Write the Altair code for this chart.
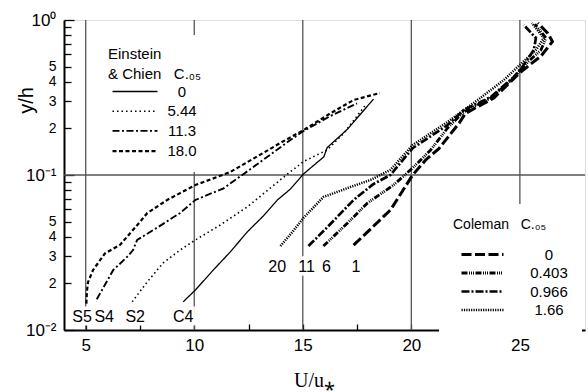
import altair as alt
import pandas as pd

# ---------------- data ----------------
# Einstein & Chien profiles: U/u* (x) vs y/h (y)
C4_x = [9.49, 10.05, 10.88, 11.66, 12.44, 13.18, 13.83, 14.43, 15.03, 15.97, 16.12, 17.05, 18.26]
C4_y = [0.0152, 0.0181, 0.0244, 0.0319, 0.0429, 0.0544, 0.069, 0.0812, 0.1015, 0.131, 0.150, 0.197, 0.309]
S2_x = [7.14, 7.83, 8.57, 9.35, 10.05, 11.2, 12.44, 14.24, 15.03, 16.12, 16.89, 17.89]
S2_y = [0.0152, 0.0204, 0.0271, 0.0328, 0.0381, 0.0476, 0.0622, 0.100, 0.122, 0.145, 0.186, 0.283]
S4_x = [5.51, 6.27, 6.95, 7.18, 7.37, 8.34, 9.35, 10.05, 11.35, 12.58, 14.43, 15.03, 16.27, 17.5]
S4_y = [0.0158, 0.0244, 0.030, 0.0328, 0.0381, 0.0462, 0.0569, 0.069, 0.082, 0.109, 0.168, 0.192, 0.24, 0.29]
S5_x = [5.03, 5.06, 5.11, 5.34, 5.89, 6.58, 7.51, 7.83, 8.75, 10.05, 11.66, 13.97, 15.04, 16.27, 17.35, 18.55]
S5_y = [0.0148, 0.018, 0.0204, 0.0244, 0.0312, 0.0354, 0.050, 0.0567, 0.069, 0.0861, 0.1045, 0.161, 0.195, 0.25, 0.305, 0.338]
EC_runs = ["C4", "S2", "S4", "S5"]
EC_conc = ["0", "5.44", "11.3", "18.0"]

# Coleman profiles
R1_x = [17.34, 18.12, 19.04, 20.06, 20.66, 21.27, 22.2, 22.5, 23.8, 25.04, 25.97, 26.5, 26.29, 25.83]
R1_y = [0.0353, 0.0448, 0.0595, 0.100, 0.125, 0.148, 0.216, 0.25, 0.314, 0.462, 0.585, 0.725, 0.82, 0.957]
R6_x = [15.95, 17.06, 17.98, 19.18, 20.06, 20.89, 21.67, 22.41, 23.66, 24.72, 25.27, 25.97, 26.2, 25.69]
R6_y = [0.0348, 0.049, 0.066, 0.0861, 0.111, 0.145, 0.201, 0.255, 0.314, 0.423, 0.52, 0.64, 0.765, 0.942]
R11_x = [15.26, 16.14, 17.34, 18.26, 19.04, 20.06, 21.67, 22.41, 23.66, 24.72, 25.14, 25.64, 25.74, 25.18]
R11_y = [0.0348, 0.0462, 0.069, 0.0875, 0.100, 0.149, 0.21, 0.262, 0.319, 0.429, 0.505, 0.64, 0.765, 0.929]
R20_x = [13.97, 14.52, 15.03, 15.95, 17.06, 18.12, 19.04, 20.06, 21.67, 23.06, 24.26, 25.04, 25.74, 26.1, 25.55]
R20_y = [0.0348, 0.0429, 0.0528, 0.0721, 0.0824, 0.0929, 0.108, 0.156, 0.22, 0.305, 0.41, 0.52, 0.64, 0.765, 0.957]
CO_runs = ["1", "6", "11", "20"]
CO_conc = ["0", "0.403", "0.966", "1.66"]

# curve labels
EC_lab = ["S5", "S4", "S2", "C4"]
EC_lab_x = [4.83, 5.85, 7.28, 9.49]
EC_lab_y = [0.0121, 0.0121, 0.0121, 0.0121]
CO_lab = ["20", "11", "6", "1"]
CO_lab_x = [13.82, 15.17, 16.09, 17.45]
CO_lab_y = [0.0255, 0.0255, 0.0255, 0.0255]

# grid / ticks
grid_x = [5, 10, 15, 20, 25]
grid_y = [0.1]
x_label_vals = [5, 10, 15, 20, 25]
x_tick_vals = [5, 7.5, 10, 12.5, 15, 17.5, 20, 22.5, 25, 27.5]
y_label_vals = [0.01, 0.02, 0.03, 0.04, 0.05, 0.1, 0.2, 0.3, 0.4, 0.5, 1]
y_tick_vals = [0.01, 0.02, 0.03, 0.04, 0.05, 0.06, 0.07, 0.08, 0.09,
               0.1, 0.2, 0.3, 0.4, 0.5, 0.6, 0.7, 0.8, 0.9, 1]

# ---------------- frames ----------------
def build(runs, concs, xs_list, ys_list):
    rows = []
    for run, conc, xs, ys in zip(runs, concs, xs_list, ys_list):
        for i, (a, b) in enumerate(zip(xs, ys)):
            rows.append({"run": run, "conc": conc, "x": a, "y": b, "i": i})
    return pd.DataFrame(rows)

ec_df = build(EC_runs, EC_conc, [C4_x, S2_x, S4_x, S5_x], [C4_y, S2_y, S4_y, S5_y])
co_df = build(CO_runs, CO_conc, [R1_x, R6_x, R11_x, R20_x], [R1_y, R6_y, R11_y, R20_y])
lab_df = pd.DataFrame({"t": EC_lab + CO_lab, "x": EC_lab_x + CO_lab_x, "y": EC_lab_y + CO_lab_y})
gx_df = pd.DataFrame({"gx": grid_x})
gy_df = pd.DataFrame({"gy": grid_y})

FONT = "Liberation Sans"
NB = "\u00a0"
W, H = 521, 310
xscale = alt.Scale(domain=[4, 28], nice=False, zero=False)
yscale = alt.Scale(type="log", domain=[0.01, 1], nice=False)
major_test = "datum.value == 0.01 || datum.value == 0.1 || datum.value == 1"

# ---------------- layers ----------------
vgrid = alt.Chart(gx_df).mark_rule(color="#555", strokeWidth=1.3).encode(
    x=alt.X("gx:Q", scale=xscale, axis=alt.Axis(
        values=x_label_vals, ticks=False, tickSize=0, grid=False, domain=True,
        domainColor="black", domainWidth=2, labelFont=FONT, labelFontSize=17,
        labelColor="black", labelPadding=7, format="d",
        title="U/u⁎", titleFont="Liberation Serif", titleFontSize=20,
        titleFontWeight="normal", titleColor="black", titlePadding=17,
        titleX=250, titleAlign="center")))

hgrid = alt.Chart(gy_df).mark_rule(color="#555", strokeWidth=1.3).encode(
    y=alt.Y("gy:Q", scale=yscale, axis=alt.Axis(
        values=y_label_vals, ticks=False, tickSize=0, grid=False, domain=True,
        domainColor="black", domainWidth=2, labelFont=FONT,
        labelFontSize={"condition": {"test": major_test, "value": 17}, "value": 14},
        labelColor="black", labelPadding=8,
        labelExpr="datum.value == 1 ? '10⁰' : datum.value == 0.1 ? '10⁻¹' : datum.value == 0.01 ? '10⁻²' : format(datum.value * (datum.value < 0.1 ? 100 : 10), 'd')",
        title="y/h", titleFont=FONT, titleFontSize=20, titleFontWeight="normal",
        titleColor="black", titleX=-38, titleY=80, titleAlign="center",
        titleBaseline="middle")))

ec_lines = alt.Chart(ec_df).mark_line(color="black", strokeCap="butt").encode(
    x=alt.X("x:Q", scale=xscale, axis=alt.Axis(
        orient="top", offset=-H, values=x_tick_vals, labels=False, domain=False,
        grid=False, ticks=True, tickSize=6, tickColor="black", tickWidth=1.3, title=None)),
    y=alt.Y("y:Q", scale=yscale, axis=alt.Axis(
        orient="right", offset=-W, values=y_tick_vals, labels=False, domain=False,
        grid=False, ticks=True,
        tickSize={"condition": {"test": major_test, "value": 10}, "value": 7},
        tickColor="black", tickWidth=1.3, title=None)),
    strokeDash=alt.StrokeDash("conc:N", scale=alt.Scale(
        domain=EC_conc, range=[[1, 0], [1.5, 3], [7, 2.5, 2, 2.5], [4, 2.5]]),
        legend=alt.Legend(
            orient="none", legendX=32, legendY=15,
            title=["Einstein", "& Chien" + NB * 3 + "C.₀₅"], titleFont=FONT, titleFontSize=15,
            titleFontWeight="normal", titleColor="black", titleLineHeight=20, titlePadding=1,
            labelFont=FONT, labelFontSize=15, labelColor="black", labelAlign="center",
            labelOffset=56, symbolType="M-0.6,0H5.4", symbolSize=225,
            symbolStrokeColor="black", symbolStrokeWidth=2, symbolFillColor="transparent",
            fillColor="white", padding=12, rowPadding=2.7)),
    strokeWidth=alt.StrokeWidth("conc:N", scale=alt.Scale(
        domain=EC_conc, range=[1.3, 2.2, 2.5, 2.8]), legend=None),
    order=alt.Order("i:Q"),
)

co_lines = alt.Chart(co_df).mark_line(color="black", strokeCap="butt").encode(
    x=alt.X("x:Q", scale=xscale, axis=None),
    y=alt.Y("y:Q", scale=yscale, axis=None),
    strokeDash=alt.StrokeDash("conc:N", scale=alt.Scale(
        domain=CO_conc,
        range=[[10, 3.5], [6, 1.5, 1, 1, 1, 1, 1, 1.5], [8, 2, 2, 2], [1.2, 1.2]]),
        legend=alt.Legend(
            orient="none", legendX=375, legendY=184,
            title="Coleman" + NB * 3 + "C.₀₅", titleFont=FONT, titleFontSize=14,
            titleFontWeight="normal", titleColor="black", titlePadding=14,
            labelFont=FONT, labelFontSize=15, labelColor="black", labelAlign="center",
            labelOffset=79, symbolType="M0,0H6", symbolSize=196,
            symbolStrokeColor="black", symbolStrokeWidth=2.5, symbolFillColor="transparent",
            fillColor="white", padding=14, rowPadding=1.5)),
    strokeWidth=alt.StrokeWidth("conc:N", scale=alt.Scale(
        domain=CO_conc, range=[3, 2.5, 2.8, 2.6]), legend=None),
    order=alt.Order("i:Q"),
)

halo = alt.Chart(lab_df).mark_text(
    font=FONT, fontSize=16, stroke="white", strokeWidth=7, color="white").encode(
    x=alt.X("x:Q", scale=xscale, axis=None),
    y=alt.Y("y:Q", scale=yscale, axis=None),
    text="t:N")
labels = alt.Chart(lab_df).mark_text(font=FONT, fontSize=16, color="black").encode(
    x=alt.X("x:Q", scale=xscale, axis=None),
    y=alt.Y("y:Q", scale=yscale, axis=None),
    text="t:N")

chart = alt.layer(vgrid, hgrid, ec_lines, co_lines, halo, labels).resolve_scale(
    strokeDash="independent", strokeWidth="independent"
).resolve_axis(
    x="independent", y="independent"
).properties(
    width=W, height=H,
    autosize=alt.AutoSizeParams(type="none"),
    padding={"left": 64, "top": 20, "right": 3, "bottom": 62},
).configure_view(
    stroke="#333", strokeWidth=1.5
).configure(background="white")

chart.save("out.html", embed_options={"renderer": "svg", "actions": False})
